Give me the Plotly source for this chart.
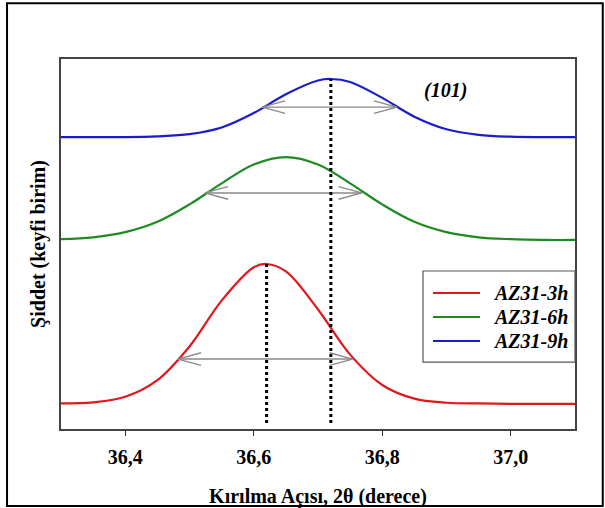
import plotly.graph_objects as go

# (101) reflection profiles, intensity in arbitrary units with vertical offsets
red_x = [36.30, 36.35, 36.40, 36.45, 36.50, 36.55, 36.60, 36.62, 36.65, 36.70,
         36.75, 36.80, 36.85, 36.90, 36.95, 37.00, 37.05, 37.10]
red_y = [6.9, 7.2, 8.7, 13.2, 22.3, 34.7, 43.7, 44.6, 42.6, 32.3,
         20.1, 11.9, 8.2, 7.1, 6.9, 6.8, 6.8, 6.8]

green_x = [36.30, 36.35, 36.40, 36.45, 36.50, 36.55, 36.60, 36.65, 36.70,
           36.75, 36.80, 36.85, 36.90, 36.95, 37.00, 37.05, 37.10]
green_y = [51.3, 51.8, 53.2, 56.0, 60.7, 66.4, 71.5, 73.5, 71.5,
           66.4, 60.7, 56.0, 53.2, 51.8, 51.3, 51.1, 51.1]

blue_x = [36.30, 36.35, 36.40, 36.45, 36.50, 36.55, 36.60, 36.65, 36.70, 36.72,
          36.75, 36.80, 36.85, 36.90, 36.95, 37.00, 37.05, 37.10]
blue_y = [78.9, 78.9, 78.9, 79.1, 79.7, 81.5, 85.4, 90.5, 94.2, 94.6,
          93.8, 89.5, 84.4, 81.0, 79.5, 79.0, 78.9, 78.9]

series_names = ["AZ31-3h", "AZ31-6h", "AZ31-9h"]
series_colors = ["#e3161c", "#1f8a22", "#1a1ad0"]

# peak width markers (double arrows): left end, right end, level
width_left = [36.482, 36.524, 36.613]
width_right = [36.754, 36.768, 36.823]
width_level = [18.9, 63.8, 87.0]

x_ticks = [36.4, 36.6, 36.8, 37.0]

FONT = "Liberation Serif"

fig = go.Figure()

for xs, ys, name, col in zip([red_x, green_x, blue_x], [red_y, green_y, blue_y],
                             series_names, series_colors):
    fig.add_trace(go.Scatter(x=xs, y=ys, mode="lines", name=name, showlegend=False,
                             line=dict(color=col, width=2.2, shape="spline")))

# width arrows with open heads
head_dx = 0.036
head_dy = 1.7
ax, ay = [], []
for xl, xr, lv in zip(width_left, width_right, width_level):
    ax += [xl, xr, None,
           xl + head_dx, xl, xl + head_dx, None,
           xr - head_dx, xr, xr - head_dx, None]
    ay += [lv, lv, None,
           lv + head_dy, lv, lv - head_dy, None,
           lv + head_dy, lv, lv - head_dy, None]
fig.add_trace(go.Scatter(x=ax, y=ay, mode="lines", showlegend=False,
                         hoverinfo="skip", line=dict(color="#8a8a8a", width=1.4)))

# dotted lines through the peak positions of the 3h and 9h profiles
for xs, ys in [(red_x, red_y), (blue_x, blue_y)]:
    i = ys.index(max(ys))
    fig.add_trace(go.Scatter(x=[xs[i], xs[i]], y=[1.6, ys[i]], mode="lines",
                             showlegend=False, hoverinfo="skip",
                             line=dict(color="black", width=3, dash="dot")))

fig.add_annotation(x=36.898, y=91.6, xref="x", yref="y", text="<b><i>(101)</i></b>",
                   showarrow=False, font=dict(family=FONT, size=20, color="black"))

# legend box drawn in paper coordinates
fig.add_shape(type="rect", xref="paper", yref="paper",
              x0=0.7043, x1=1.0, y0=0.181, y1=0.427,
              line=dict(color="#555555", width=1.2), fillcolor="white", layer="above")
row_y = [0.3676, 0.3027, 0.2378]
for name, col, ry in zip(series_names, series_colors, row_y):
    fig.add_shape(type="line", xref="paper", yref="paper",
                  x0=0.7237, x1=0.8152, y0=ry, y1=ry,
                  line=dict(color=col, width=2), layer="above")
    fig.add_annotation(x=0.8366, y=ry, xref="paper", yref="paper",
                       xanchor="left", yanchor="middle", showarrow=False,
                       text="<b><i>" + name + "</i></b>",
                       font=dict(family=FONT, size=20, color="black"))

# outer frame around the whole figure
fig.add_shape(type="rect", xref="paper", yref="paper",
              x0=-0.105, x1=1.054, y0=-0.208, y1=1.151,
              line=dict(color="black", width=2))

fig.update_layout(
    width=605, height=508,
    margin=dict(l=61, r=30, t=59, b=79),
    paper_bgcolor="white", plot_bgcolor="white",
    separators=",.",
    font=dict(family=FONT, color="black"),
    showlegend=False,
    xaxis=dict(range=[36.3, 37.1], tickvals=x_ticks, tickformat=".1f",
               ticks="outside", ticklen=5, tickwidth=1.2, tickcolor="#333",
               ticklabelstandoff=4, automargin=False,
               tickfont=dict(family=FONT, size=20, weight="bold"),
               showgrid=False, zeroline=False,
               showline=True, linecolor="#444", linewidth=1.5, mirror=True,
               title=dict(text="<b>Kırılma Açısı, 2θ (derece)</b>",
                          font=dict(family=FONT, size=20), standoff=22)),
    yaxis=dict(range=[0, 100], showticklabels=False, ticks="", automargin=False,
               showgrid=False, zeroline=False,
               showline=True, linecolor="#444", linewidth=1.5, mirror=True,
               title=dict(text="<b>Şiddet (keyfi birim)</b>",
                          font=dict(family=FONT, size=20), standoff=8)),
)

fig.write_html("out.html")
